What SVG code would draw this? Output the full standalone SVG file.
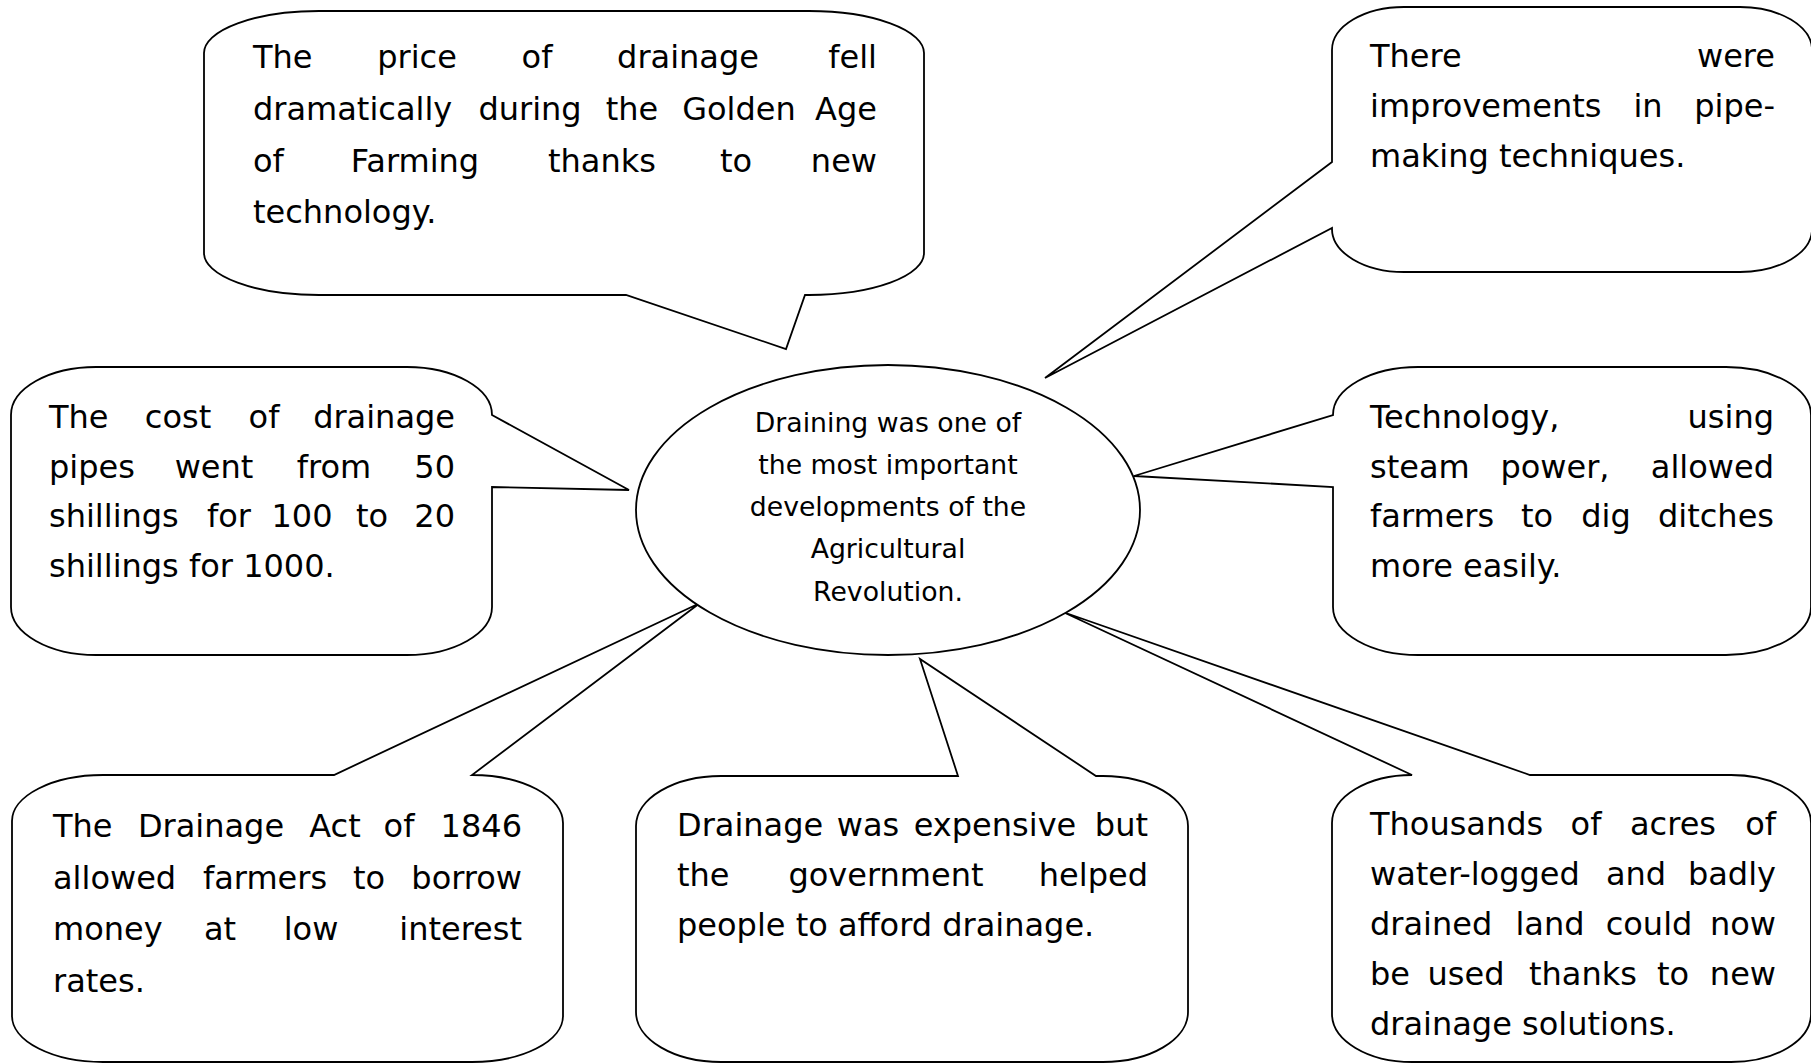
<svg xmlns="http://www.w3.org/2000/svg" width="1811" height="1063" viewBox="0 0 1811 1063">
<style>
.box{fill:#fff;stroke:#000;stroke-width:1.8;stroke-linejoin:miter}
.t{font-family:"DejaVu Sans","Liberation Sans",sans-serif;font-size:32px;fill:#000}
.c{font-size:26.7px;text-anchor:middle}
.m{text-anchor:middle}
.e{text-anchor:end}
</style>
<rect width="1811" height="1063" fill="#fff"/>
<g id="connectors"></g>

<g id="node-price">
<path class="box" d="M319,11 H809 A115,42 0 0 1 924,53 V253 A115,42 0 0 1 809,295 H805 L786,349 L626,295 H319 A115,42 0 0 1 204,253 V53 A115,42 0 0 1 319,11 Z"/>
<g class="t">
<text x="253" y="68">The</text><text class="m" x="417" y="68">price</text><text class="m" x="537" y="68">of</text><text class="m" x="688" y="68">drainage</text><text class="e" x="877" y="68">fell</text>
<text x="253" y="120">dramatically</text><text class="m" x="530" y="120">during</text><text class="m" x="632" y="120">the</text><text class="m" x="739" y="120">Golden</text><text class="e" x="877" y="120">Age</text>
<text x="253" y="172">of</text><text class="m" x="415" y="172">Farming</text><text class="m" x="602" y="172">thanks</text><text class="m" x="736" y="172">to</text><text class="e" x="877" y="172">new</text>
<text x="253" y="223">technology.</text>
</g>
</g>

<g id="node-pipes">
<path class="box" d="M1404,7 H1740 A72,43 0 0 1 1812,50 V229 A72,43 0 0 1 1740,272 H1404 A72,43 0 0 1 1332,229 L1332,228 L1045,378 L1332,162 V50 A72,43 0 0 1 1404,7 Z"/>
<g class="t">
<text x="1370" y="67">There</text><text class="e" x="1775" y="67">were</text>
<text x="1370" y="117">improvements</text><text class="m" x="1648" y="117">in</text><text class="e" x="1775" y="117">pipe-</text>
<text x="1370" y="167">making techniques.</text>
</g>
</g>

<g id="node-cost">
<path class="box" d="M96,367 H407 A85,48 0 0 1 492,415 L629,490 L492,487 V607 A85,48 0 0 1 407,655 H96 A85,48 0 0 1 11,607 V415 A85,48 0 0 1 96,367 Z"/>
<g class="t">
<text x="49" y="428">The</text><text class="m" x="178" y="428">cost</text><text class="m" x="264" y="428">of</text><text class="e" x="455" y="428">drainage</text>
<text x="49" y="478">pipes</text><text class="m" x="214" y="478">went</text><text class="m" x="334" y="478">from</text><text class="e" x="455" y="478">50</text>
<text x="49" y="527">shillings</text><text class="m" x="229" y="527">for</text><text class="m" x="302" y="527">100</text><text class="m" x="372" y="527">to</text><text class="e" x="455" y="527">20</text>
<text x="49" y="577">shillings for 1000.</text>
</g>
</g>

<g id="node-steam">
<path class="box" d="M1418,367 H1726 A85,48 0 0 1 1811,415 V607 A85,48 0 0 1 1726,655 H1418 A85,48 0 0 1 1333,607 V487 L1134,476 L1333,415 A85,48 0 0 1 1418,367 Z"/>
<g class="t">
<text x="1370" y="428">Technology,</text><text class="e" x="1774" y="428">using</text>
<text x="1370" y="478">steam</text><text class="m" x="1555" y="478">power,</text><text class="e" x="1774" y="478">allowed</text>
<text x="1370" y="527">farmers</text><text class="m" x="1537" y="527">to</text><text class="m" x="1606" y="527">dig</text><text class="e" x="1774" y="527">ditches</text>
<text x="1370" y="577">more easily.</text>
</g>
</g>

<g id="node-act">
<path class="box" d="M103,775 H334 L700,603 L472,775 A91,48 0 0 1 563,823 V1016 A91,46 0 0 1 472,1062 H103 A91,46 0 0 1 12,1016 V821 A91,46 0 0 1 103,775 Z"/>
<g class="t">
<text x="53" y="837">The</text><text class="m" x="211" y="837">Drainage</text><text class="m" x="335" y="837">Act</text><text class="m" x="399" y="837">of</text><text class="e" x="522" y="837">1846</text>
<text x="53" y="889">allowed</text><text class="m" x="265" y="889">farmers</text><text class="m" x="369" y="889">to</text><text class="e" x="522" y="889">borrow</text>
<text x="53" y="940">money</text><text class="m" x="220" y="940">at</text><text class="m" x="311" y="940">low</text><text class="e" x="522" y="940">interest</text>
<text x="53" y="992">rates.</text>
</g>
</g>

<g id="node-government">
<path class="box" d="M721,776 H958 L920,659 L1096,776 H1103 A85,50 0 0 1 1188,826 V1012 A85,50 0 0 1 1103,1062 H721 A85,50 0 0 1 636,1012 V826 A85,50 0 0 1 721,776 Z"/>
<g class="t">
<text x="677" y="836">Drainage</text><text class="m" x="868" y="836">was</text><text class="m" x="995" y="836">expensive</text><text class="e" x="1148" y="836">but</text>
<text x="677" y="886">the</text><text class="m" x="886" y="886">government</text><text class="e" x="1148" y="886">helped</text>
<text x="677" y="936">people to afford drainage.</text>
</g>
</g>

<g id="node-acres">
<path class="box" d="M1412,775 L1063,612 L1530,775 H1731 A80,48 0 0 1 1811,823 V1014 A80,48 0 0 1 1731,1062 H1412 A80,48 0 0 1 1332,1014 V823 A80,48 0 0 1 1412,775 Z"/>
<g class="t">
<text x="1370" y="835">Thousands</text><text class="m" x="1586" y="835">of</text><text class="m" x="1673" y="835">acres</text><text class="e" x="1776" y="835">of</text>
<text x="1370" y="885">water-logged</text><text class="m" x="1636" y="885">and</text><text class="e" x="1776" y="885">badly</text>
<text x="1370" y="935">drained</text><text class="m" x="1550" y="935">land</text><text class="m" x="1649" y="935">could</text><text class="e" x="1776" y="935">now</text>
<text x="1370" y="985">be</text><text class="m" x="1466" y="985">used</text><text class="m" x="1583" y="985">thanks</text><text class="m" x="1673" y="985">to</text><text class="e" x="1776" y="985">new</text>
<text x="1370" y="1035">drainage solutions.</text>
</g>
</g>

<g id="node-center">
<ellipse class="box" cx="888" cy="510" rx="252" ry="145"/>
<g class="t c">
<text x="888" y="432">Draining was one of</text>
<text x="888" y="474">the most important</text>
<text x="888" y="516">developments of the</text>
<text x="888" y="558">Agricultural</text>
<text x="888" y="601">Revolution.</text>
</g>
</g>
</svg>
